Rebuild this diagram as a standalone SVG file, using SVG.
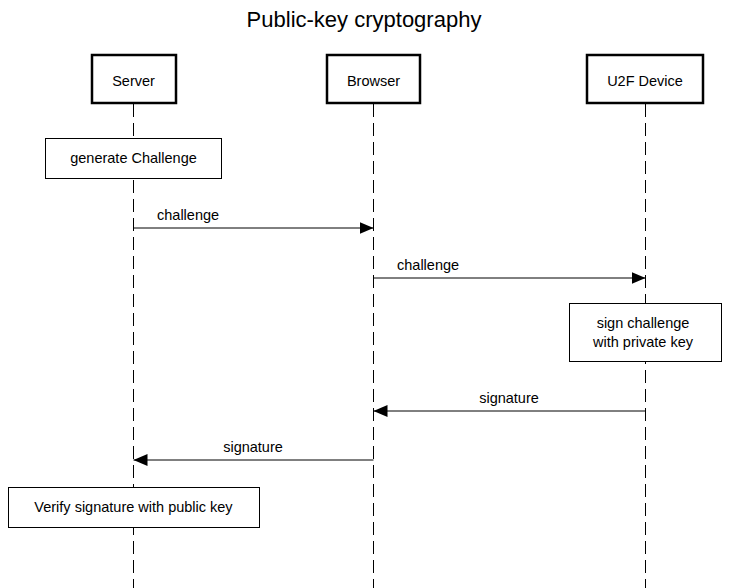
<svg xmlns="http://www.w3.org/2000/svg" width="729" height="588" viewBox="0 0 729 588">
<defs>
<style>
text{font-family:"Liberation Sans",Arial,Helvetica,sans-serif;fill:#000;}
.t{font-size:14.5px;}
.mid{text-anchor:middle;}
.head{fill:#fff;stroke:#000;stroke-width:2.5;}
.note{fill:#fff;stroke:#000;stroke-width:1;}
.life{stroke:#000;stroke-width:1;stroke-dasharray:13 6;fill:none;}
.msg{stroke:#000;stroke-width:1;fill:none;marker-end:url(#ah);}
</style>
<marker id="ah" markerUnits="userSpaceOnUse" markerWidth="15" markerHeight="13" refX="14" refY="6" orient="auto">
<path d="M0,0 L14,6 L0,12 z" fill="#000"/>
</marker>
</defs>
<rect width="729" height="588" fill="#fff"/>
<text x="364" y="27" class="mid" font-size="22">Public-key cryptography</text>
<g id="lifelines">
<line class="life" x1="133.5" y1="104" x2="133.5" y2="588"/>
<line class="life" x1="373.5" y1="104" x2="373.5" y2="588"/>
<line class="life" x1="645.5" y1="104" x2="645.5" y2="588"/>
</g>
<g id="server">
<rect class="head" x="92" y="55" width="84" height="48"/>
<text class="t mid" x="133.5" y="86">Server</text>
</g>
<g id="browser">
<rect class="head" x="327" y="55" width="93" height="48"/>
<text class="t mid" x="373.5" y="86">Browser</text>
</g>
<g id="u2f">
<rect class="head" x="587" y="55" width="116" height="48"/>
<text class="t mid" x="645" y="86">U2F Device</text>
</g>
<g id="generate">
<rect class="note" x="45.5" y="138.5" width="176" height="40"/>
<text class="t mid" x="133.5" y="163">generate Challenge</text>
</g>
<g id="sign">
<rect class="note" x="569.5" y="303.5" width="152" height="58"/>
<text class="t mid" x="643" y="328">sign challenge</text>
<text class="t mid" x="643" y="347">with private key</text>
</g>
<g id="verify">
<rect class="note" x="8.5" y="487.5" width="251" height="40"/>
<text class="t mid" x="133.5" y="512">Verify signature with public key</text>
</g>
<g id="connectors">
<line class="msg" x1="133.5" y1="228" x2="373.5" y2="228"/>
<text class="t" x="157" y="220">challenge</text>
<line class="msg" x1="373.5" y1="278" x2="645.5" y2="278"/>
<text class="t" x="397" y="270">challenge</text>
<line class="msg" x1="645.5" y1="411" x2="373.5" y2="411"/>
<text class="t mid" x="509" y="403">signature</text>
<line class="msg" x1="373.5" y1="460" x2="133.5" y2="460"/>
<text class="t mid" x="253" y="452">signature</text>
</g>
</svg>
